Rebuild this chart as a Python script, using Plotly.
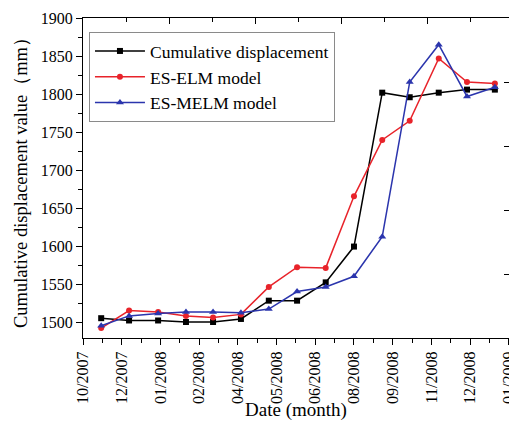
import plotly.graph_objects as go

# Data
tick_labels = ["10/2007", "12/2007", "01/2008", "02/2008", "04/2008", "05/2008",
               "06/2008", "08/2008", "09/2008", "11/2008", "12/2008", "01/2009"]
tick_positions = list(range(len(tick_labels)))
x_pos = [0.47, 1.19, 1.94, 2.66, 3.36, 4.08, 4.80, 5.53, 6.27, 7.00, 7.73, 8.44, 9.19, 9.92, 10.64]
cumulative = [1506, 1503, 1503, 1501, 1501, 1505, 1529, 1529, 1553, 1600, 1802, 1796, 1802, 1806, 1806]
es_elm = [1493, 1516, 1514, 1509, 1507, 1511, 1547, 1573, 1572, 1666, 1740, 1765, 1847, 1816, 1814]
es_melm = [1496, 1509, 1512, 1514, 1514, 1513, 1518, 1541, 1547, 1561, 1613, 1816, 1865, 1797, 1809]

FONT = "Liberation Serif, Times New Roman, serif"
BLACK = "#000000"
RED = "#e8232a"
BLUE = "#2b35ad"

fig = go.Figure()
fig.add_trace(go.Scatter(x=x_pos, y=cumulative, mode="lines+markers", name="Cumulative displacement",
                         line=dict(color=BLACK, width=1.5),
                         marker=dict(symbol="square", size=6, color=BLACK)))
fig.add_trace(go.Scatter(x=x_pos, y=es_elm, mode="lines+markers", name="ES-ELM model",
                         line=dict(color=RED, width=1.5),
                         marker=dict(symbol="circle", size=6, color=RED)))
fig.add_trace(go.Scatter(x=x_pos, y=es_melm, mode="lines+markers", name="ES-MELM model",
                         line=dict(color=BLUE, width=1.5),
                         marker=dict(symbol="triangle-up", size=7, color=BLUE)))
# helper trace so the top / right frame axes are drawn
fig.add_trace(go.Scatter(x=[None], y=[None], xaxis="x2", yaxis="y2", showlegend=False,
                         hoverinfo="skip"))

fig.update_layout(
    width=509, height=421,
    margin=dict(l=83, r=0, t=18, b=83),
    paper_bgcolor="white", plot_bgcolor="white",
    font=dict(family=FONT, size=16, color="black"),
    xaxis=dict(
        range=[0, 11.005], tickmode="array", tickvals=tick_positions, ticktext=tick_labels,
        tickangle=-90, ticks="outside", ticklen=6, tickwidth=1, tickcolor="black",
        ticklabeloverflow="allow", automargin=False,
        showline=True, linecolor="black", linewidth=1.3, showgrid=False, zeroline=False,
        minor=dict(ticks="outside", ticklen=4, tickwidth=1, tickcolor="black", dtick=0.5, tick0=0),
        tickfont=dict(family=FONT, size=16),
        title=dict(text="Date (month)", font=dict(family=FONT, size=19), standoff=8),
    ),
    yaxis=dict(
        range=[1480, 1900], tick0=1500, dtick=50, ticks="outside", ticklen=6, tickwidth=1,
        tickcolor="black", showline=True, linecolor="black", linewidth=1.3,
        showgrid=False, zeroline=False, automargin=False,
        minor=dict(ticks="outside", ticklen=4, tickwidth=1, tickcolor="black", dtick=25),
        tickfont=dict(family=FONT, size=16),
        title=dict(text="Cumulative displacement value（mm）", font=dict(family=FONT, size=18.5),
                   standoff=8),
    ),
    xaxis2=dict(
        overlaying="x", side="top", range=[0, 11.005], tick0=0, dtick=2.222,
        ticks="inside", ticklen=6, tickwidth=1, tickcolor="black", showticklabels=False,
        showline=True, linecolor="black", linewidth=1.3, showgrid=False, zeroline=False,
        minor=dict(ticks="inside", ticklen=4, tickwidth=1, tickcolor="black", dtick=1.111, tick0=0),
    ),
    yaxis2=dict(
        overlaying="y", side="right", range=[1480, 1900], tick0=1480, dtick=84,
        ticks="inside", ticklen=5, tickwidth=1, tickcolor="black", showticklabels=False,
        showline=False, showgrid=False, zeroline=False,
    ),
    legend=dict(
        x=0.014, y=0.956, xanchor="left", yanchor="top",
        bgcolor="white", bordercolor="#8a8a8a", borderwidth=1,
        font=dict(family=FONT, size=17.5), tracegroupgap=0, itemwidth=50,
    ),
    showlegend=True,
)

fig.write_html("out.html")
